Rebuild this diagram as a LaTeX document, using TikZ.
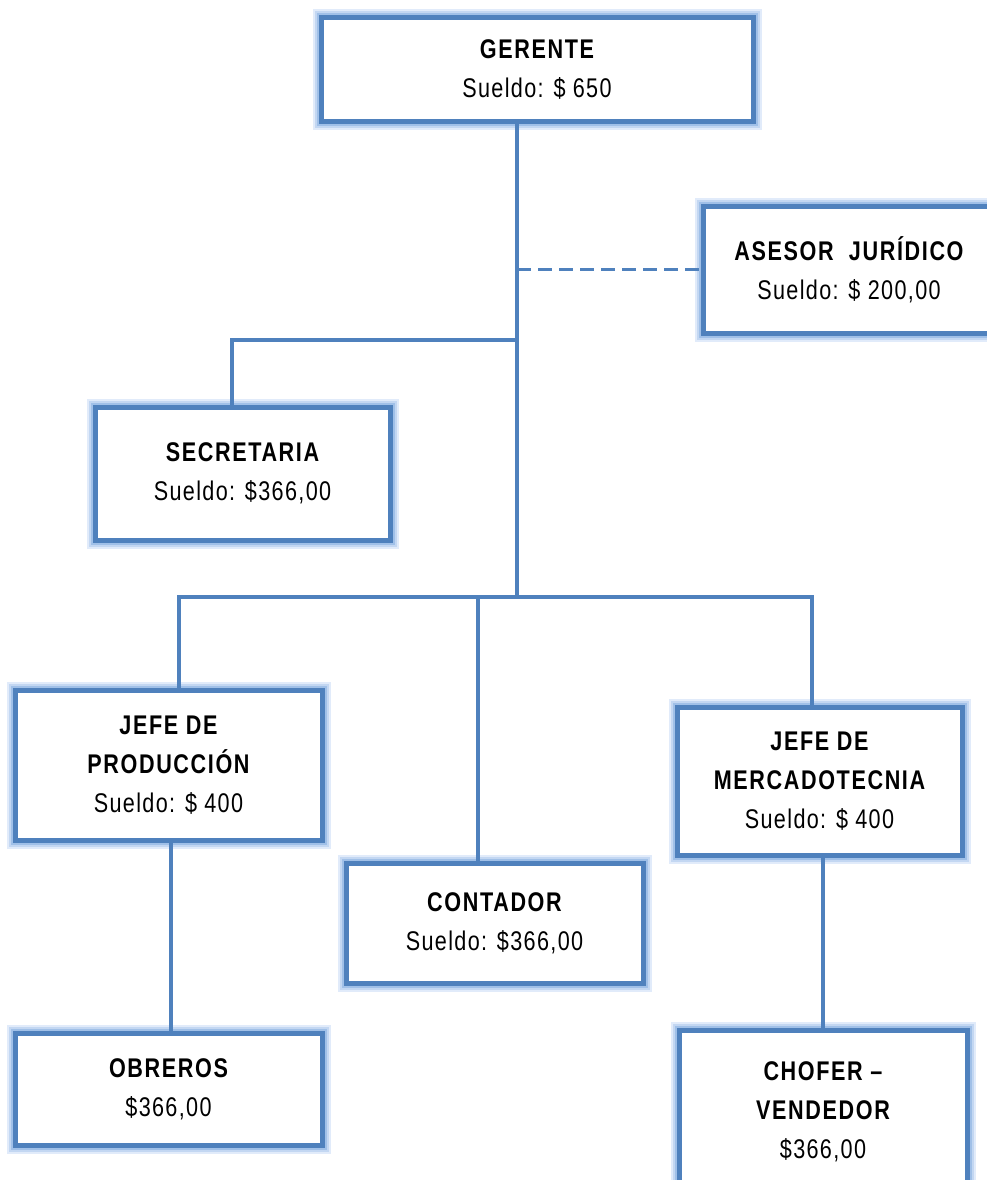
\documentclass[tikz,border=0pt]{standalone}
\usepackage{fontspec}
\usetikzlibrary{backgrounds}
\setmainfont{Liberation Sans}[FakeStretch=0.8,LetterSpace=5]
\newfontfamily\hdfont{Liberation Sans}[FakeStretch=0.8,LetterSpace=6]
\newcommand\hd[1]{{\hdfont\bfseries #1}}
\definecolor{edge}{RGB}{79,129,189}
\definecolor{glowA}{RGB}{225,235,250}
\definecolor{glowB}{RGB}{195,215,242}
\definecolor{glowC}{RGB}{160,192,232}
\tikzset{
  post/.style={draw=edge, line width=5pt, fill=white, rectangle, align=center,
    inner sep=0pt, font=\fontsize{27}{39}\selectfont,
    preaction={draw=glowA, line width=17pt},
    preaction={draw=glowB, line width=13pt},
    preaction={draw=glowC, line width=9pt}},
  conn/.style={draw=edge, line width=3.5pt},
  staff/.style={conn, dash pattern=on 14pt off 7pt}
}
\begin{document}
\begin{tikzpicture}[x=1pt, y=-1pt]
  \useasboundingbox (0,0) rectangle (987,1180);
  \clip (0,0) rectangle (987,1180);

  % boxes of the chart
  \path (537,70) node[post, minimum width=432pt, minimum height=104pt] (ger) {\hd{GERENTE}\\Sueldo: \$ 650};
  \path (849,269.5) node[post, minimum width=292pt, minimum height=127pt] (ase) {\hd{ASESOR\ \ JURÍDICO}\\Sueldo: \$ 200,00};
  \path (242.5,473.5) node[post, minimum width=295pt, minimum height=133pt] (sec) {\hd{SECRETARIA}\\Sueldo: \$366,00};
  \path (168.5,765) node[post, minimum width=307pt, minimum height=150pt] (jp) {\hd{JEFE DE}\\\hd{PRODUCCIÓN}\\Sueldo: \$ 400};
  \path (494.5,923) node[post, minimum width=297pt, minimum height=120pt] (con) {\hd{CONTADOR}\\Sueldo: \$366,00};
  \path (819.5,781) node[post, minimum width=285pt, minimum height=148pt] (jm) {\hd{JEFE DE}\\\hd{MERCADOTECNIA}\\Sueldo: \$ 400};
  \path (168.5,1089) node[post, minimum width=307pt, minimum height=112pt] (obr) {\hd{OBREROS}\\\$366,00};
  \path (823,1112) node[post, minimum width=288pt, minimum height=164pt] (cho) {\hd{CHOFER –}\\\hd{VENDEDOR}\\\$366,00};

  % junction points on the main trunk
  \coordinate (trunk) at (517,597);
  \coordinate (secjoin) at (517,340);

  \begin{scope}[on background layer]
    \fill[white] (0,0) rectangle (987,1180);
  \end{scope}

  % main trunk
  \draw[conn] (ger.south -| trunk) -- (trunk);
  % staff line to the legal advisor
  \draw[staff] (ase.west -| trunk) -- (ase.west);
  % secretary branch
  \draw[conn] (secjoin) -| ([xshift=-10.5pt]sec.north);
  % lower distribution bar
  \draw[conn] ([xshift=10.5pt]jp.north) |- (trunk) -| ([xshift=-7.5pt]jm.north);
  \draw[conn] ([xshift=-16.5pt]con.north) -- ([xshift=-16.5pt]con.north |- trunk);
  % subordinate links
  \draw[conn] ([xshift=2.5pt]jp.south) -- ([xshift=2.5pt]obr.north);
  \draw[conn] (cho.north) -- (cho.north |- jm.south);
\end{tikzpicture}
\end{document}
